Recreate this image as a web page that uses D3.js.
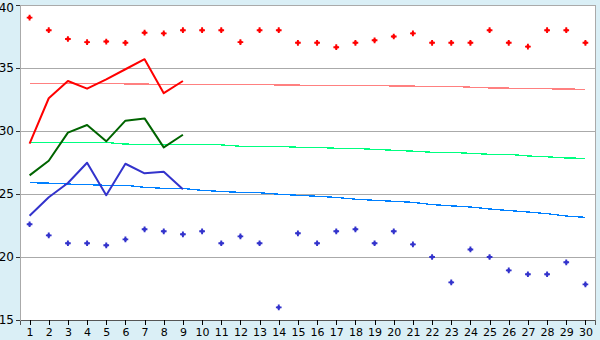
<!DOCTYPE html>
<html>
<head>
<meta charset="utf-8">
<script src="https://cdn.jsdelivr.net/npm/d3@7"></script>
<style>
    body { margin: 0; background: #daeff6; }
    svg { display: block; }
    .tick text { font-family: "DejaVu Sans", sans-serif; fill: #000; }
</style>
</head>
<body>
<div id="dataviz"></div>
<script>
"use strict";

// Categories (x axis)
var days = d3.range(1, 31);

// Scattered markers (all 30 days)
var redPoints = [39.0, 38.0, 37.3, 37.05, 37.1, 37.0, 37.8, 37.75, 38.0, 38.0,
                 38.0, 37.05, 38.0, 38.0, 37.0, 37.0, 36.65, 37.0, 37.2, 37.5,
                 37.75, 37.0, 37.0, 37.0, 38.0, 37.0, 36.7, 38.0, 38.0, 37.0];
var bluePoints = [22.6, 21.72, 21.09, 21.09, 20.93, 21.4, 22.2, 22.04, 21.8, 22.04,
                  21.09, 21.64, 21.09, 16.0, 21.88, 21.09, 22.04, 22.2, 21.09, 22.04,
                  21.0, 20.0, 17.99, 20.6, 20.0, 18.94, 18.63, 18.63, 19.58, 17.83];

// Solid lines (first 9 days)
var redLine = [29.0, 32.6, 33.97, 33.36, 34.1, 34.9, 35.7, 33.0, 33.97];
var greenLine = [26.48, 27.64, 29.87, 30.48, 29.18, 30.82, 31.0, 28.7, 29.7];
var blueLine = [23.28, 24.74, 25.87, 27.48, 24.9, 27.4, 26.64, 26.77, 25.37];

// Trend lines (all 30 days)
var redTrend = [33.79, 33.78, 33.78, 33.77, 33.76, 33.74, 33.72, 33.71, 33.70, 33.70,
                33.69, 33.68, 33.67, 33.66, 33.64, 33.63, 33.62, 33.61, 33.59, 33.58,
                33.56, 33.55, 33.54, 33.48, 33.42, 33.40, 33.38, 33.35, 33.33, 33.31];
var greenTrend = [29.10, 29.10, 29.10, 29.10, 29.09, 28.96, 28.94, 28.94, 28.94, 28.93,
                  28.90, 28.79, 28.78, 28.78, 28.71, 28.70, 28.63, 28.62, 28.54, 28.47,
                  28.40, 28.31, 28.30, 28.23, 28.15, 28.15, 28.02, 27.95, 27.86, 27.83];
var blueTrend = [25.90, 25.86, 25.79, 25.74, 25.69, 25.69, 25.53, 25.45, 25.44, 25.29,
                 25.20, 25.13, 25.10, 24.98, 24.90, 24.82, 24.73, 24.59, 24.50, 24.42,
                 24.34, 24.16, 24.06, 23.97, 23.81, 23.69, 23.57, 23.44, 23.25, 23.15];

// Y tick values
var yTicks = [15, 20, 25, 30, 35, 40];

var W = 600, H = 340;
var margin = { top: 5, right: 5, bottom: 20, left: 20 };
var width = W - margin.left - margin.right;
var height = H - margin.top - margin.bottom;

var svg = d3.select("#dataviz").append("svg")
    .attr("width", W)
    .attr("height", H);

var g = svg.append("g")
    .attr("transform", "translate(" + margin.left + "," + margin.top + ")");

// Scales
var xScale = d3.scalePoint().domain(days).range([0, width]).padding(0.5);
var yScale = d3.scaleLinear().domain([15, 40]).range([height, 0]);

// Plot background
g.append("rect")
    .attr("width", width)
    .attr("height", height)
    .attr("fill", "#fff");

// Grid lines
g.selectAll(".grid")
    .data(yTicks.slice(1))
    .enter().append("line")
    .attr("class", "grid")
    .attr("x1", 0).attr("x2", width)
    .attr("y1", function (d) { return Math.round(yScale(d)) + 0.5; })
    .attr("y2", function (d) { return Math.round(yScale(d)) + 0.5; })
    .attr("stroke", "#aaa")
    .attr("shape-rendering", "crispEdges");

// Border
g.append("rect")
    .attr("x", 0.5).attr("y", 0.5)
    .attr("width", width).attr("height", height - 0.5)
    .attr("fill", "none")
    .attr("stroke", "#aaa")
    .attr("shape-rendering", "crispEdges");

// Axes
var xAxis = d3.axisBottom(xScale).tickSize(5).tickPadding(3);
var yAxis = d3.axisLeft(yScale).tickValues(yTicks).tickSize(4).tickPadding(2);

var gx = g.append("g")
    .attr("transform", "translate(0," + height + ")")
    .call(xAxis);
gx.select(".domain").attr("stroke", "#555");
gx.selectAll(".tick text").attr("font-size", "11px");

var gy = g.append("g").call(yAxis);
gy.select(".domain").attr("stroke", "#aaa");
gy.selectAll(".tick text")
    .attr("font-size", "12px")
    .attr("dy", function (d) { return d === 40 ? "0.5em" : "0.32em"; });
gy.selectAll(".tick line").attr("stroke", "#333");
g.selectAll(".tick line").attr("shape-rendering", "crispEdges");

// Line generators
function makeLine() {
    return d3.line()
        .x(function (d, i) { return xScale(days[i]); })
        .y(function (d) { return yScale(d); });
}

// Trend lines
var trends = [
    { values: redTrend, color: "#ff8080" },
    { values: greenTrend, color: "#00ff80" },
    { values: blueTrend, color: "#0080ff" }
];
trends.forEach(function (t) {
    g.append("path")
        .datum(t.values)
        .attr("d", makeLine())
        .attr("fill", "none")
        .attr("stroke", t.color)
        .attr("stroke-width", 1.3)
        .attr("shape-rendering", "crispEdges");
});

// Main lines
var lines = [
    { values: redLine, color: "#ff0000" },
    { values: greenLine, color: "#006400" },
    { values: blueLine, color: "#3333cc" }
];
lines.forEach(function (l) {
    g.append("path")
        .datum(l.values)
        .attr("d", makeLine())
        .attr("fill", "none")
        .attr("stroke", l.color)
        .attr("stroke-width", 2)
        .attr("stroke-linejoin", "round");
});

// Markers
var cross = d3.symbol().type(d3.symbolCross).size(18);
var centre = d3.symbol().type(d3.symbolSquare).size(8);
var markers = [
    { values: redPoints, color: "#ff0000" },
    { values: bluePoints, color: "#3333cc" }
];
markers.forEach(function (m) {
    var mk = g.selectAll(null)
        .data(m.values)
        .enter().append("g")
        .attr("transform", function (d, i) {
            return "translate(" + xScale(days[i]) + "," + yScale(d) + ")";
        })
        .attr("fill", m.color);
    mk.append("path").attr("d", cross);
    mk.append("path").attr("d", centre);
});
</script>
</body>
</html>
